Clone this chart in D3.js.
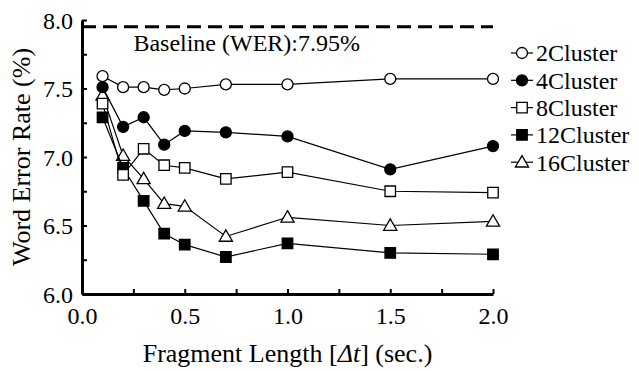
<!DOCTYPE html>
<html lang="en">
<head>
    <meta charset="UTF-8">
    <title>Word Error Rate</title>
</head>
<body style="margin:0;background:#fff">
    <svg id="svg" width="639" height="371"></svg>
    <script src="https://d3js.org/d3.v7.min.js"></script>
    <script>
        const fragLen = [0.1, 0.2, 0.3, 0.4, 0.5, 0.7, 1.0, 1.5, 2.0];
        const c2  = [7.59, 7.51, 7.51, 7.49, 7.50, 7.53, 7.53, 7.57, 7.57];
        const c4  = [7.51, 7.22, 7.29, 7.09, 7.19, 7.18, 7.15, 6.91, 7.08];
        const c8  = [7.39, 6.87, 7.06, 6.94, 6.92, 6.84, 6.89, 6.75, 6.74];
        const c12 = [7.29, 6.92, 6.68, 6.44, 6.36, 6.27, 6.37, 6.30, 6.29];
        const c16 = [7.45, 7.01, 6.84, 6.66, 6.64, 6.42, 6.56, 6.50, 6.53];
        const seriesNames = ['2Cluster', '4Cluster', '8Cluster', '12Cluster', '16Cluster'];
        const baseline = 7.95;
        const xTicks = [0.0, 0.5, 1.0, 1.5, 2.0];
        const yTicks = [6.0, 6.5, 7.0, 7.5, 8.0];

        const series = [
            { name: seriesNames[0], values: c2,  shape: 'circle', fill: '#fff' },
            { name: seriesNames[1], values: c4,  shape: 'circle', fill: '#000' },
            { name: seriesNames[2], values: c8,  shape: 'square', fill: '#fff' },
            { name: seriesNames[3], values: c12, shape: 'square', fill: '#000' },
            { name: seriesNames[4], values: c16, shape: 'triangle', fill: '#fff' }
        ];

        const serif = "'Liberation Serif'";
        const svg = d3.select('#svg');
        const width = 639, height = 371;
        const margin = { top: 20, left: 82, bottom: 77, right: 146 };
        const innerWidth = width - margin.left - margin.right;
        const innerHeight = height - margin.top - margin.bottom;

        const xScale = d3.scaleLinear().domain([0, 2]).range([0, innerWidth]);
        const yScale = d3.scaleLinear().domain([6, 8]).range([innerHeight, 0]);

        const g = svg.append('g').attr('transform', `translate(${margin.left},${margin.top})`);

        // axes, ticks point inward
        const xAxis = d3.axisBottom(xScale).tickValues(d3.range(0, 2.01, 0.25))
            .tickSize(-5).tickSizeOuter(0).tickFormat(d => xTicks.includes(d) ? d3.format('.1f')(d) : '');
        const yAxis = d3.axisLeft(yScale).tickValues(d3.range(6, 8.01, 0.25))
            .tickSize(-5).tickSizeOuter(0).tickFormat(d => yTicks.includes(d) ? d3.format('.1f')(d) : '');

        const gx = g.append('g').attr('transform', `translate(0,${innerHeight})`).call(xAxis);
        const gy = g.append('g').call(yAxis);
        gx.attr('font-family', null).attr('font-size', null);
        gy.attr('font-family', null).attr('font-size', null);
        gx.selectAll('text').attr('dy', null).attr('y', 30);
        gy.selectAll('text').attr('x', -9).attr('dy', '0.35em');
        [gx, gy].forEach(a => {
            a.select('.domain').attr('stroke', '#000').attr('stroke-width', 3);
            a.selectAll('.tick line').attr('stroke', '#000').attr('stroke-width', 2);
            a.selectAll('text').attr('fill', '#000')
                .style('font-family', serif).style('font-size', '24px');
        });

        // baseline
        g.append('line')
            .attr('x1', xScale(0)).attr('x2', xScale(2))
            .attr('y1', yScale(baseline)).attr('y2', yScale(baseline))
            .attr('stroke', '#000').attr('stroke-width', 3).attr('stroke-dasharray', '14,7');
        g.append('text').attr('x', xScale(0.25)).attr('y', yScale(baseline) + 24)
            .style('font-family', serif).style('font-size', '24px')
            .text('Baseline (WER):7.95%');

        const sym = {
            circle: d3.symbol().type(d3.symbolCircle).size(95),
            square: d3.symbol().type(d3.symbolSquare).size(110),
            triangle: d3.symbol().type(d3.symbolTriangle).size(75)
        };

        const line = d3.line().x(d => xScale(d[0])).y(d => yScale(d[1]));

        // draw in reverse so 2Cluster sits on top
        series.slice().reverse().forEach(s => {
            const pts = fragLen.map((x, i) => [x, s.values[i]]);
            g.append('path').datum(pts).attr('d', line)
                .attr('fill', 'none').attr('stroke', '#000').attr('stroke-width', 1.2);
            g.selectAll(null).data(pts).enter().append('path')
                .attr('d', sym[s.shape])
                .attr('transform', d => `translate(${xScale(d[0])},${yScale(d[1]) + (s.shape === 'triangle' ? 1 : 0)})`)
                .attr('fill', s.fill).attr('stroke', '#000').attr('stroke-width', 1.3);
        });

        // legend
        const legend = svg.append('g').attr('transform', 'translate(511,53)');
        series.forEach((s, i) => {
            const row = legend.append('g').attr('transform', `translate(0,${i * 27.3})`);
            row.append('line').attr('x1', 0).attr('x2', 22).attr('stroke', '#000').attr('stroke-width', 1.2);
            row.append('path').attr('d', sym[s.shape])
                .attr('transform', `translate(11,${s.shape === 'triangle' ? 1 : 0})`)
                .attr('fill', s.fill).attr('stroke', '#000').attr('stroke-width', 1.3);
            row.append('text').attr('x', 25).attr('dy', '0.35em')
                .style('font-family', serif).style('font-size', '24px').text(s.name);
        });

        // axis titles
        const xt = svg.append('text').attr('x', margin.left + innerWidth / 2).attr('y', 362)
            .attr('text-anchor', 'middle')
            .style('font-family', serif).style('font-size', '26px');
        xt.append('tspan').text('Fragment Length [');
        xt.append('tspan').style('font-style', 'italic').text('Δt');
        xt.append('tspan').text('] (sec.)');
        svg.append('text').attr('transform', `translate(30,${margin.top + innerHeight / 2}) rotate(-90)`)
            .attr('text-anchor', 'middle')
            .style('font-family', serif).style('font-size', '26px')
            .text('Word Error Rate (%)');
    </script>
</body>
</html>
